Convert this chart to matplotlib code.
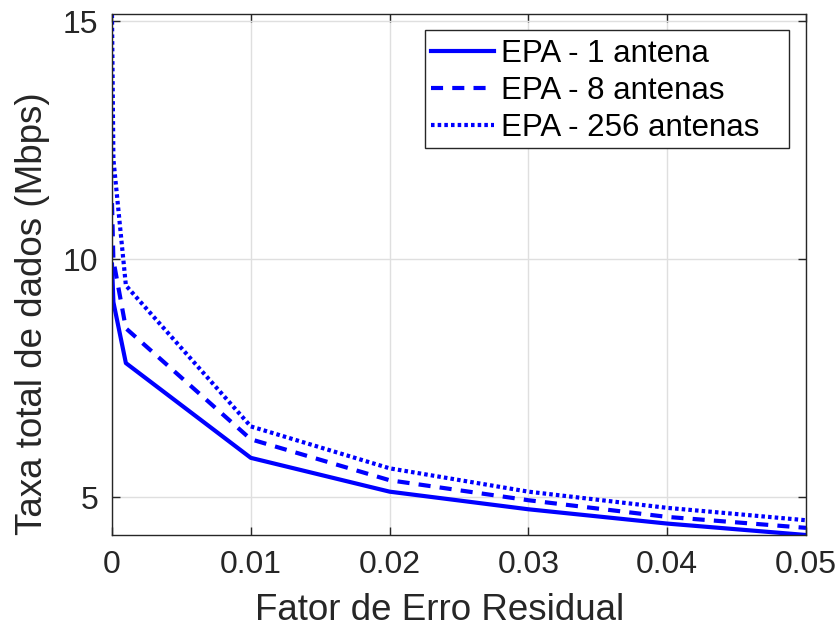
import numpy as np
import matplotlib
matplotlib.use("Agg")
import matplotlib.pyplot as plt
from matplotlib.patches import Rectangle

# data
fator = [0, 0.0001, 0.001, 0.01, 0.02, 0.03, 0.04, 0.05]
taxa_1 = [9.89, 9.10, 7.82, 5.83, 5.12, 4.75, 4.45, 4.21]
taxa_8 = [11.18, 9.98, 8.55, 6.22, 5.36, 4.94, 4.59, 4.36]
taxa_256 = [15.14, 12.1, 9.45, 6.49, 5.61, 5.12, 4.78, 4.52]
labels = ["EPA - 1 antena", "EPA - 8 antenas", "EPA - 256 antenas"]
xticks = [0, 0.01, 0.02, 0.03, 0.04, 0.05]
xticklabels = ["0", "0.01", "0.02", "0.03", "0.04", "0.05"]
yticks = [5, 10, 15]

W, H = 838, 633


def main():
    plt.rcParams["font.family"] = ["Liberation Sans", "DejaVu Sans"]
    fig = plt.figure(figsize=(W / 100, H / 100), dpi=100)
    ax = fig.add_axes([112 / W, 1 - 535 / H, 694 / W, 521 / H])

    ax.plot(fator, taxa_1, color="#0000ff", lw=3, ls="-", label=labels[0])
    ax.plot(fator, taxa_8, color="#0000ff", lw=3, dashes=(2.9, 2.2),
            label=labels[1])
    ax.plot(fator, taxa_256, color="#0000ff", lw=3, dashes=(0.85, 0.75),
            label=labels[2])

    ax.set_xlim(0, 0.05)
    ax.set_ylim(4.21, 15.15)
    ax.set_xticks(xticks)
    ax.set_xticklabels(xticklabels)
    ax.set_yticks(yticks)

    ax.grid(True, color="#dfdfdf", lw=1)
    ax.set_axisbelow(True)
    for s in ax.spines.values():
        s.set_color("#262626")
        s.set_linewidth(1)
    ax.tick_params(direction="in", length=6, width=1, colors="#262626",
                   labelsize=23, top=True, right=True)
    ax.tick_params(axis="x", pad=11)
    ax.tick_params(axis="y", pad=10)

    ax.set_xlabel("Fator de Erro Residual", fontsize=26.5, color="#262626")
    ax.xaxis.set_label_coords(0.4726, -0.112)
    ax.set_ylabel("Taxa total de dados (Mbps)", fontsize=26.5,
                  color="#262626")
    ax.yaxis.set_label_coords(-0.0893, 0.424)

    # legend box drawn by hand (MATLAB-style wide frame)
    box = Rectangle((425 / W, 1 - 148 / H), 364 / W, 118 / H,
                    transform=fig.transFigure, facecolor="white",
                    edgecolor="#262626", lw=1, zorder=4.5, clip_on=False)
    ax.add_patch(box)
    leg = ax.legend(loc="upper left", bbox_to_anchor=(425 / W, 1 - 33 / H),
                    bbox_transform=fig.transFigure, fontsize=22.5,
                    handlelength=2.0, handletextpad=0.22, borderpad=0.2,
                    labelspacing=0.22, borderaxespad=0, frameon=False)
    leg.set_zorder(5)

    fig.savefig("out.png", dpi=100)


if __name__ == "__main__":
    main()
